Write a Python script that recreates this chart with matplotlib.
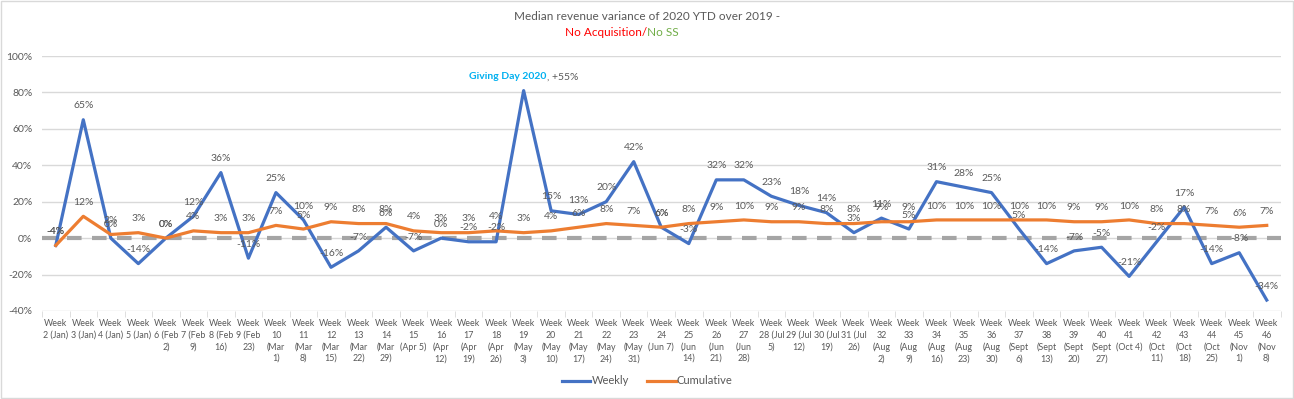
import numpy as np
import matplotlib.pyplot as plt
from matplotlib.ticker import FuncFormatter, FixedLocator

plt.rcParams['font.family'] = ['Lato', 'DejaVu Sans']

weeks = ["Week\n2 (Jan)", "Week\n3 (Jan)", "Week\n4 (Jan)", "Week\n5 (Jan)",
         "Week\n6 (Feb\n2)", "Week\n7 (Feb\n9)", "Week\n8 (Feb\n16)", "Week\n9 (Feb\n23)",
         "Week\n10\n(Mar\n1)", "Week\n11\n(Mar\n8)", "Week\n12\n(Mar\n15)", "Week\n13\n(Mar\n22)",
         "Week\n14\n(Mar\n29)", "Week\n15\n(Apr 5)", "Week\n16\n(Apr\n12)", "Week\n17\n(Apr\n19)",
         "Week\n18\n(Apr\n26)", "Week\n19\n(May\n3)", "Week\n20\n(May\n10)", "Week\n21\n(May\n17)",
         "Week\n22\n(May\n24)", "Week\n23\n(May\n31)", "Week\n24\n(Jun 7)", "Week\n25\n(Jun\n14)",
         "Week\n26\n(Jun\n21)", "Week\n27\n(Jun\n28)", "Week\n28 (Jul\n5)", "Week\n29 (Jul\n12)",
         "Week\n30 (Jul\n19)", "Week\n31 (Jul\n26)", "Week\n32\n(Aug\n2)", "Week\n33\n(Aug\n9)",
         "Week\n34\n(Aug\n16)", "Week\n35\n(Aug\n23)", "Week\n36\n(Aug\n30)", "Week\n37\n(Sept\n6)",
         "Week\n38\n(Sept\n13)", "Week\n39\n(Sept\n20)", "Week\n40\n(Sept\n27)", "Week\n41\n(Oct 4)",
         "Week\n42\n(Oct\n11)", "Week\n43\n(Oct\n18)", "Week\n44\n(Oct\n25)", "Week\n45\n(Nov\n1)",
         "Week\n46\n(Nov\n8)"]

weekly = [-4, 65, 0, -14, 0, 12, 36, -11, 25, 10, -16, -7, 6, -7, 0, -2, -2, 81,
          15, 13, 20, 42, 6, -3, 32, 32, 23, 18, 14, 3, 11, 5, 31, 28, 25, 5,
          -14, -7, -5, -21, -2, 17, -14, -8, -34]

cumulative = [-4, 12, 2, 3, 0, 4, 3, 3, 7, 5, 9, 8, 8, 4, 3, 3, 4, 3,
              4, 6, 8, 7, 6, 8, 9, 10, 9, 9, 8, 8, 9, 9, 10, 10, 10, 10,
              10, 9, 9, 10, 8, 8, 7, 6, 7]

giving_day_week = 17  # index of Week 19

gray = '#595959'
blue = '#4472C4'
orange = '#ED7D31'

fig = plt.figure(figsize=(12.94, 3.99), dpi=100)
ax = fig.add_axes([42 / 1294, 88 / 399, 1238.5 / 1294, 255 / 399])

x = np.arange(len(weeks))
ax.axhline(0, color='#A5A5A5', lw=3, dashes=(3.5, 2.5), zorder=2)
ax.plot(x, weekly, color=blue, lw=2.3, zorder=3, solid_joinstyle='round', label='Weekly')
ax.plot(x, cumulative, color=orange, lw=2.3, zorder=3, solid_joinstyle='round', label='Cumulative')

# data labels
for i in range(len(x)):
    if i != giving_day_week:
        ax.annotate('%d%%' % weekly[i], (x[i], weekly[i]), xytext=(0, 10),
                    textcoords='offset points', ha='center', va='center',
                    fontsize=7.5, color=gray, zorder=4)
    ax.annotate('%d%%' % cumulative[i], (x[i], cumulative[i]), xytext=(0, 10),
                textcoords='offset points', ha='center', va='center',
                fontsize=7.5, color=gray, zorder=4)

gx, gy = x[giving_day_week], weekly[giving_day_week]
ax.annotate('Giving Day 2020', (gx, gy), xytext=(16.5, 10), textcoords='offset points',
            ha='right', va='center', fontsize=7.5, color='#00B0F0', fontweight='bold')
ax.annotate(', +55%', (gx, gy), xytext=(16.5, 10), textcoords='offset points',
            ha='left', va='center', fontsize=7.5, color=gray)

ax.set_xlim(-0.5, len(x) - 0.5)
ax.set_ylim(-40, 100)
ax.set_yticks(np.arange(-40, 101, 20))
ax.yaxis.set_major_formatter(FuncFormatter(lambda v, p: '%d%%' % v))
ax.grid(axis='y', color='#D9D9D9', lw=1)
ax.set_axisbelow(True)

ax.set_xticks(x)
ax.set_xticklabels(weeks, fontsize=6.4, color=gray, linespacing=1.35, va='top')
ax.xaxis.set_minor_locator(FixedLocator(np.arange(-0.5, len(x), 1)))
ax.tick_params(axis='x', which='major', length=0, pad=6)
ax.tick_params(axis='x', which='minor', length=4, color='#D9D9D9')
ax.tick_params(axis='y', length=0, labelsize=7.5, labelcolor=gray, pad=7)
for s in ax.spines.values():
    s.set_visible(False)

# title
fig.text(0.5, 1 - 17 / 399, 'Median revenue variance of 2020 YTD over 2019 -',
         ha='center', va='center', fontsize=8.5, color=gray)
fig.text(0.5, 1 - 33 / 399, 'No Acquisition/', ha='right', va='center',
         fontsize=8.5, color='#FF0000')
fig.text(0.5, 1 - 33 / 399, 'No SS', ha='left', va='center', fontsize=8.5, color='#70AD47')

leg = fig.legend(loc='center', bbox_to_anchor=(0.5, 1 - 381 / 399), ncol=2, frameon=False,
                 fontsize=8, handlelength=2.6, handletextpad=0.1, columnspacing=1.6)
for t in leg.get_texts():
    t.set_color(gray)

# outer frame
fig.patches.append(plt.Rectangle((0.001, 0.002), 0.998, 0.996, transform=fig.transFigure,
                                 fill=False, ec='#D9D9D9', lw=1))

fig.savefig('out.png', dpi=100)
